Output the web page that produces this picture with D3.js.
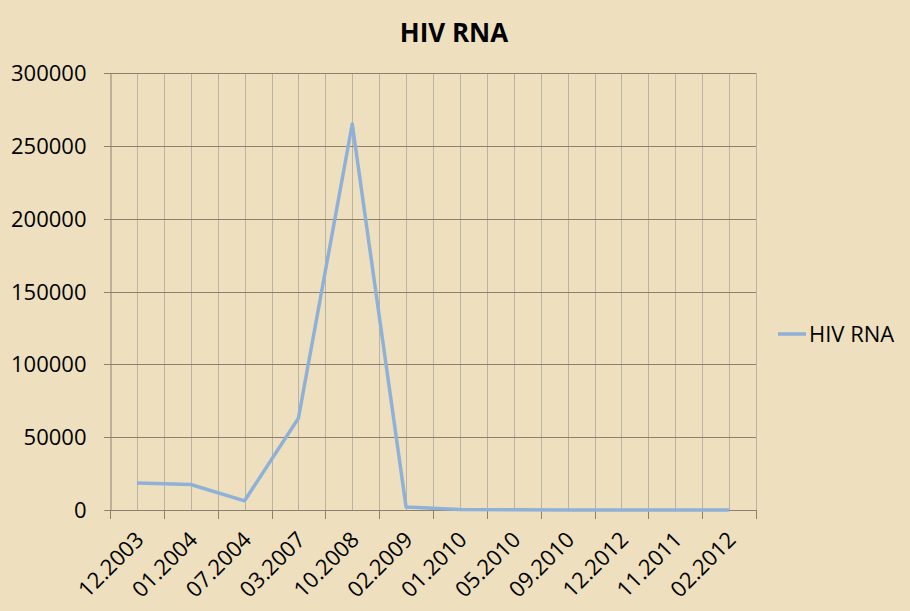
<!DOCTYPE html>
<html>
<head>
<meta charset="utf-8">
<script src="https://cdn.jsdelivr.net/npm/d3@7"></script>
<style>
  html, body { margin: 0; padding: 0; background: #EEE0BE; }
  svg { display: block; }
</style>
</head>
<body>
<svg id="chart" width="910" height="611"></svg>
<script>
const categories = ["12.2003", "01.2004", "07.2004", "03.2007", "10.2008", "02.2009", "01.2010", "05.2010", "09.2010", "12.2012", "11.2011", "02.2012"];
const hivRna = [18500, 17500, 6300, 63000, 265000, 2000, 400, 100, 50, 50, 50, 50];
const yTicks = [0, 50000, 100000, 150000, 200000, 250000, 300000];
const seriesName = "HIV RNA";
const chartTitle = "HIV RNA";

const svg = d3.select("#chart");
const W = 910, H = 611;
const m = { left: 110, right: 756, top: 73, bottom: 510 };
const font = "'Open Sans', 'Noto Sans', sans-serif";

svg.append("rect").attr("width", W).attr("height", H).attr("fill", "#EEE0BE");

const x = d3.scaleBand().domain(categories).range([m.left, m.right]).padding(0);
const y = d3.scaleLinear().domain([0, 300000]).range([m.bottom, m.top]);

// vertical gridlines at every half category
const bw = x.bandwidth();
const vLines = [];
categories.forEach(c => { vLines.push(x(c)); vLines.push(x(c) + bw / 2); });
vLines.push(m.right);
svg.append("g").selectAll("line").data(vLines.slice(1)).join("line")
  .attr("x1", d => Math.round(d) + 0.5).attr("x2", d => Math.round(d) + 0.5)
  .attr("y1", m.top).attr("y2", m.bottom)
  .attr("stroke", "#BAB2A2").attr("stroke-width", 1);

// horizontal gridlines
svg.append("g").selectAll("line").data(yTicks.filter(t => t > 0)).join("line")
  .attr("x1", m.left - 6).attr("x2", m.right)
  .attr("y1", d => Math.round(y(d)) + 0.5).attr("y2", d => Math.round(y(d)) + 0.5)
  .attr("stroke", "#8C806E").attr("stroke-width", 1);

// y axis
const yAxis = svg.append("g").attr("transform", `translate(${m.left + 0.5},0)`)
  .call(d3.axisLeft(y).tickValues(yTicks).tickSize(6).tickPadding(18).tickFormat(d3.format("d")));
yAxis.select(".domain").attr("stroke", "#8C806E");
yAxis.selectAll(".tick line").attr("stroke", "#8C806E");
yAxis.selectAll("text").attr("font-family", font).attr("font-size", 22).attr("fill", "#000");
yAxis.selectAll(".tick").attr("transform", d => `translate(0,${Math.round(y(d)) + 0.5})`);

// x axis line and ticks at boundaries
const bounds = categories.map(c => x(c)).concat([m.right]);
svg.append("line").attr("x1", m.left).attr("x2", m.right)
  .attr("y1", m.bottom + 0.5).attr("y2", m.bottom + 0.5).attr("stroke", "#8C806E");
svg.append("g").selectAll("line").data(bounds).join("line")
  .attr("x1", d => Math.round(d) + 0.5).attr("x2", d => Math.round(d) + 0.5)
  .attr("y1", m.bottom).attr("y2", m.bottom + 9)
  .attr("stroke", "#8C806E");

// x labels rotated
svg.append("g").selectAll("text").data(categories).join("text")
  .attr("transform", d => `translate(${x(d) + bw / 2 + 4},${m.bottom + 27}) rotate(-45)`)
  .attr("text-anchor", "end")
  .attr("dominant-baseline", "middle")
  .attr("font-family", font).attr("font-size", 22).attr("fill", "#000")
  .text(d => d);

// line
const line = d3.line().x((d, i) => x(categories[i]) + bw / 2).y(d => y(d));
svg.append("path").datum(hivRna).attr("d", line)
  .attr("fill", "none").attr("stroke", "#8FB1D8").attr("stroke-width", 3.5)
  .attr("stroke-linejoin", "round");

// title
svg.append("text").attr("x", 454).attr("y", 42).attr("text-anchor", "middle")
  .attr("font-family", font).attr("font-weight", "bold").attr("font-size", 26)
  .attr("fill", "#000").text(chartTitle);

// legend
svg.append("line").attr("x1", 778).attr("x2", 806).attr("y1", 334).attr("y2", 334)
  .attr("stroke", "#8FB1D8").attr("stroke-width", 3.5);
svg.append("text").attr("x", 809).attr("y", 342)
  .attr("font-family", font).attr("font-size", 22).attr("fill", "#000").text(seriesName);
</script>
</body>
</html>
